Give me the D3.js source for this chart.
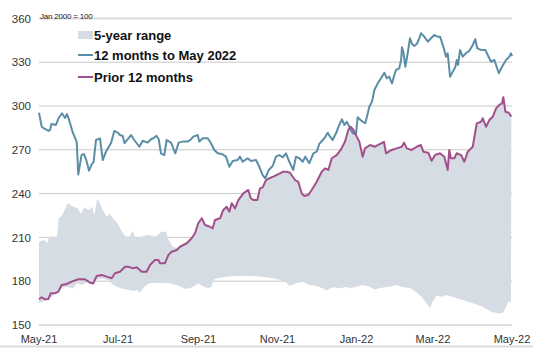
<!DOCTYPE html>
<html><head><meta charset="utf-8">
<script src="https://cdn.jsdelivr.net/npm/d3@7"></script>
<style>html,body{margin:0;padding:0;background:#fff;}svg{display:block;font-family:"Liberation Sans",Arial,sans-serif;}</style>
</head><body>
<svg id="c" width="533" height="348"></svg>
<script>
// Days since 1 May 2021, index value (Jan 2000 = 100)
const recent12 = [[0,295.4],[2.1,285.8],[3.9,284.6],[7.5,282.9],[8.5,283.6],[9.6,287.7],[13.1,287],[15.2,291.8],[17.7,295],[20.1,291.8],[21.6,294.5],[23.4,290],[25.9,282.2],[29.1,275.3],[30.3,253.1],[32.8,266.4],[34.7,267.1],[36.7,262.3],[38.6,255.7],[40.9,260.3],[42.1,261.6],[44,276.7],[47.1,277.7],[49.2,263],[51.7,268.7],[55.6,274.7],[58.1,282.9],[60.6,281.8],[62.5,280.1],[64.6,279.5],[66,274.5],[68.4,277.2],[71,280.1],[73.5,276.7],[77.4,272.1],[80,276.2],[83.9,274.9],[86.4,277.2],[88.2,277.9],[90.7,279.5],[92.4,277.2],[94.1,267.6],[96.7,266.4],[98.5,276.7],[101.9,274.9],[105.2,267.6],[107.8,274.9],[110.9,275.6],[114.8,275.6],[117.3,277.2],[119.1,279],[122.5,280.1],[123.7,275.6],[126.3,277.9],[130.2,277.9],[132.7,274.5],[135.3,269.9],[137.9,267.6],[141.2,267.1],[144.3,265.3],[146.9,258.4],[149.5,262.3],[153.3,263],[155.1,265.3],[157.2,261.8],[161,264.2],[163.6,262.3],[167.5,263],[170,258.4],[172.6,252.7],[174.6,250.5],[177.3,256.2],[180.3,258.9],[182.9,265.3],[185.4,266.4],[188.1,264.9],[190.6,267.6],[193.2,261.8],[196.2,256.2],[198.3,265.3],[200.9,264.2],[203.5,261.8],[205.5,265.3],[208.6,260.8],[211.7,267.6],[214.3,268.7],[216.3,274],[220.2,277.9],[222.8,281.7],[224.6,279],[226.6,276.7],[229.2,281.3],[231.7,287],[233.8,290.9],[235.6,287],[237.5,289.2],[239.5,285.8],[242.1,281.3],[244.6,280.8],[245.9,292.3],[248.1,290.4],[249.8,289.2],[251.8,288.2],[253.7,295],[254.9,299.5],[257,303],[258.8,311],[261.4,315.5],[263.9,319],[266.5,322.8],[268.3,319],[270.3,320.1],[272.4,315.5],[274.2,321.2],[275.5,324.7],[278,325.8],[279.4,331.5],[280.1,340.2],[281.1,337.2],[282.7,326.9],[284.5,336.1],[286.3,346.4],[287.8,342.5],[289.6,341.1],[291.5,342.5],[293,345.2],[294.8,349.8],[297.3,347.5],[300,344],[302.5,346.4],[305,348.6],[307.7,347.5],[309.5,347.5],[312,340.6],[314.1,333.8],[315.4,336.1],[317.2,320.1],[319.3,323.5],[321.3,326.9],[322.4,331.5],[323.4,328.1],[324.9,338.4],[327,333.8],[329.5,336.1],[332.1,337.9],[334.7,341.8],[336.7,345.7],[338.2,339.5],[341.1,338.4],[344.4,338.4],[346.3,334.9],[348.8,330.3],[351.4,331.5],[354.8,322.4],[357.3,326.9],[360.4,331.5],[363,333.8],[364.2,336.1],[365,334.2]];

const prior12 = [[0,167.6],[2.1,169],[4.6,167.6],[7.2,167.8],[9,171.7],[12.3,171.7],[14.9,172.8],[17.5,177.4],[21.4,178.1],[25.2,179.7],[30.3,181.3],[35.5,181.3],[39.4,179],[41.9,178.6],[44.5,183.6],[48.4,184.2],[52.2,183.1],[56.1,182],[58.6,185.4],[62.5,186.5],[66.4,189.9],[68.9,189.9],[72.8,188.8],[75.4,189.5],[79.3,186.5],[83.1,186.5],[85.7,191.1],[89.5,194.5],[92.1,194.5],[93.4,192.3],[97.2,192.3],[99.8,197.9],[102.4,200.2],[106.3,201.4],[108.8,203.6],[114,206],[117.8,209.4],[120.4,212.8],[122.9,219.7],[125.6,223.1],[128.1,218.5],[132,217.3],[134,216.2],[135.8,221.9],[139.7,223.1],[142.2,228.8],[144.8,231],[146.9,227.6],[148.7,233.4],[151.3,229.9],[153.8,235.6],[157.7,240.2],[161.5,242.5],[163.4,236.8],[165.4,235.6],[168.5,235.6],[170.5,243.6],[172.6,244.3],[175.2,249.3],[177.7,250.5],[180.8,251.6],[184.7,253.4],[188.5,255],[191.2,255],[193.7,254.3],[197.6,249.3],[200.1,248.1],[202.7,240.2],[204.5,238.4],[207.8,239],[210.4,242.5],[214.3,248.1],[218.2,255],[220.7,257.3],[223.3,256.2],[225.9,264.2],[229.7,266.4],[232.8,269.9],[236.1,275.5],[238.7,283.6],[240.5,285.8],[242.6,283.6],[245.2,279],[247.2,275.5],[249.8,265.3],[251.6,271],[255.4,273.3],[259.3,272.1],[263.2,274],[266.2,275.5],[267.8,267.6],[272.2,269.9],[276,271],[279.9,272.1],[281.7,274.9],[283.8,271],[287.6,269.9],[291.5,272.1],[294.6,273.3],[296.6,268.7],[300.4,268],[303,262.5],[305.6,266.4],[309.5,267.6],[312.8,265.3],[315.4,256.2],[316.6,269.9],[317.9,264.2],[320.5,264.2],[322.3,267.6],[325.7,266.4],[328.2,261.8],[330.8,268.7],[334.7,272.1],[337.8,288.1],[341.1,289.2],[342.4,291.6],[345,285.8],[347.5,290.4],[350.2,292.7],[352.7,298.4],[355.2,300.7],[357.3,301.8],[358.3,306],[359.9,296.1],[362.5,295.4],[364.5,292.7]];

// 5-year range: upper edge (until it meets the prior-12-months line) and lower edge
const rangeHigh = [[0,207.1],[3.9,208.2],[6.6,206],[7.7,210.5],[13.9,210.5],[15.2,223.1],[18.1,225.3],[22,233.4],[26.2,231.2],[29.7,229.9],[32.4,226],[34.7,230.6],[38.6,228.8],[40.9,231],[42.7,225.3],[44.8,236.1],[46.5,234.4],[49.2,228.8],[52.2,224.2],[54.4,226],[58.1,221.9],[60.6,219.7],[63.7,214.4],[66.4,211],[69.7,210.5],[72.3,214.4],[74.5,209.4],[78.7,210.5],[83.9,211.6],[90.3,210.5],[94.1,213.9],[98,213.9],[100.1,208.2],[103.2,203.6],[107,202.5]];
const rangeLow = [[0,165.1],[2.3,165.8],[5.8,167.1],[10.8,169.9],[14.7,173.6],[18.1,175.7],[22,176],[25.9,175.1],[29.7,178.6],[33.2,177.4],[37.4,179.7],[41.3,177.4],[44,180.8],[49,181.8],[53.2,180.8],[57.3,177.4],[62.5,175.3],[67.7,174.3],[72.8,173.3],[75.6,174],[77.9,172.1],[81.3,176.2],[85.1,178.6],[92.8,179],[100.6,178.6],[106.3,177.4],[109.6,176],[113.4,174.7],[116,175.1],[119.1,176.2],[122.9,178.4],[126.8,176.2],[130.6,175.3],[133.1,176],[134.3,180.8],[136.6,181.8],[144.3,183.1],[152,183.6],[162.3,183.6],[172.6,183.1],[183.7,181.5],[190.6,179.5],[193.2,176.7],[198.3,178.6],[203.5,179.7],[208.6,177.4],[213.8,176.7],[218.4,175.3],[221.9,173.6],[226.6,175.8],[231.7,175.1],[236.9,176],[240.8,175.1],[244.6,176.2],[249.8,177.4],[254.9,176.4],[258.9,174.3],[263.2,175.3],[270.3,176.2],[275,177.4],[280.7,176],[287.1,175.1],[292.2,171.7],[296.1,168.3],[300,163.7],[301.7,161.4],[304,166.4],[306.8,170.2],[310.2,169.4],[314.1,170.5],[319.3,169.2],[327,167.1],[334.7,164.9],[342.4,162.5],[348.8,159.1],[354,158],[357.8,158],[360.4,162.5],[362.5,166.4],[364.2,164.9]];

const yTicks = [150,180,210,240,270,300,330,360];
const legendLabels = ["5-year range","12 months to May 2022","Prior 12 months"];
const unitNote = "Jan 2000 = 100";

(function(){
const start = new Date(2021,4,1);
const toDate = d => new Date(start.getTime() + d*864e5);

const svg = d3.select("#c");
const pLeft = 39, pRight = 512, pTop = 18.4, pBottom = 325;
const x = d3.scaleTime().domain([start, new Date(2022,4,1)]).range([pLeft,pRight]);
const y = d3.scaleLinear().domain([150,360]).range([pBottom, pTop]);

const blue = "#5b8ea6", purple = "#a2508b", band = "#d6dce4";

// gridlines
yTicks.forEach(t => {
  if (t === 150) return;
  svg.append("line").attr("x1",pLeft).attr("x2",pRight).attr("y1",y(t)).attr("y2",y(t))
    .attr("stroke", t===360 ? "#dadada" : "#c8c8c8").attr("stroke-width", t===360 ? 2 : 1);
});

// band polygon
const line = d3.line().x(d => x(toDate(d[0]))).y(d => y(d[1]));
const topEdge = rangeHigh.concat(prior12.filter(p => p[0] > rangeHigh[rangeHigh.length-1][0]));
const poly = topEdge.concat(rangeLow.slice().reverse());
svg.append("path").attr("d", line(poly) + "Z").attr("fill", band);

// axis line
svg.append("line").attr("x1",pLeft).attr("x2",pRight).attr("y1",y(150)).attr("y2",y(150)).attr("stroke","#bdbdbd").attr("stroke-width",1);
// bottom border
svg.append("line").attr("x1",0).attr("x2",533).attr("y1",346.5).attr("y2",346.5).attr("stroke","#dcdcdc").attr("stroke-width",2);

svg.append("path").attr("d", line(recent12)).attr("fill","none").attr("stroke",blue).attr("stroke-width",2).attr("stroke-linejoin","round");
svg.append("path").attr("d", line(prior12)).attr("fill","none").attr("stroke",purple).attr("stroke-width",2).attr("stroke-linejoin","round");

// y labels
yTicks.forEach(t => {
  svg.append("text").attr("x",31).attr("y",y(t)).attr("dy","0.36em").attr("text-anchor","end")
    .attr("font-size",11.5).attr("fill","#333").text(t);
});
// x labels
const fmt = d3.timeFormat("%b-%y");
d3.timeMonth.every(2).range(start, new Date(2022,4,2)).forEach(d => {
  svg.append("text").attr("x",x(d)).attr("y",343).attr("text-anchor","middle")
    .attr("font-size",11).attr("fill","#333").text(fmt(d));
});

svg.append("text").attr("x",40).attr("y",19).attr("font-size",8).attr("letter-spacing",-0.2).attr("fill","#222").text(unitNote);

// legend
const lg = svg.append("g");
[35,55,77].forEach((ly,i) => {
  if (i===0) lg.append("rect").attr("x",78).attr("y",ly-4).attr("width",15).attr("height",8).attr("fill",band);
  else lg.append("line").attr("x1",78).attr("x2",93).attr("y1",ly).attr("y2",ly).attr("stroke", i===1?blue:purple).attr("stroke-width",2);
  lg.append("text").attr("x",94).attr("y",ly).attr("dy","0.36em").attr("font-size",13).attr("font-weight","bold").attr("fill","#111").text(legendLabels[i]);
});
})();
</script>
</body></html>
